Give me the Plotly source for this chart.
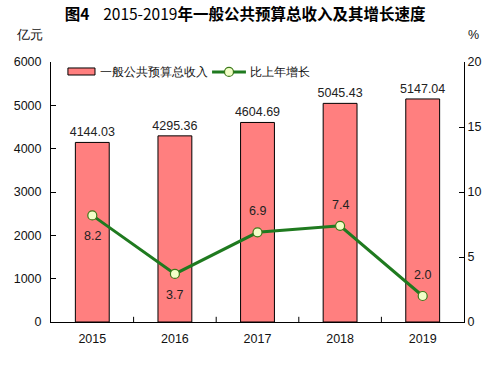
import plotly.graph_objects as go

years = ["2015", "2016", "2017", "2018", "2019"]
revenue = [4144.03, 4295.36, 4604.69, 5045.43, 5147.04]
growth = [8.2, 3.7, 6.9, 7.4, 2.0]
growth_label_side = [-1, -1, 1, 1, 1]  # -1 below point, 1 above

FONT = "Liberation Sans, Arial, sans-serif"
BAR_COLOR = "#ff7f7f"
LINE_COLOR = "#1f7a1f"
MARKER_FILL = "#f2ffc8"
MARKER_EDGE = "#3c7a1a"

fig = go.Figure()
fig.add_trace(go.Bar(
    x=years, y=revenue, name="一般公共预算总收入",
    marker=dict(color=BAR_COLOR, line=dict(color="#000000", width=1)),
    width=0.41,
    text=[f"{v:.2f}" for v in revenue], textposition="outside",
    constraintext="none",
    textfont=dict(size=12.5, color="#222222", family=FONT),
    cliponaxis=False, showlegend=False,
))
fig.add_trace(go.Scatter(
    x=years, y=growth, name="比上年增长", yaxis="y2",
    mode="lines+markers",
    line=dict(color=LINE_COLOR, width=3),
    marker=dict(size=9, color=MARKER_FILL, line=dict(color=MARKER_EDGE, width=1.2)),
    cliponaxis=False, showlegend=False,
))

annotations = [
    dict(text="亿元", xref="paper", yref="paper", x=-0.053, y=1.07,
         xanchor="center", yanchor="bottom", showarrow=False,
         font=dict(size=12.5)),
    dict(text="%", xref="paper", yref="paper", x=1.005, y=1.07,
         xanchor="left", yanchor="bottom", showarrow=False,
         font=dict(size=12.5)),
    # custom legend texts
    dict(text="一般公共预算总收入", xref="paper", yref="paper", x=0.114, y=0.962,
         xanchor="left", yanchor="middle", showarrow=False, font=dict(size=12)),
    dict(text="比上年增长", xref="paper", yref="paper", x=0.477, y=0.962,
         xanchor="left", yanchor="middle", showarrow=False, font=dict(size=12)),
]
for idx, (g, side) in enumerate(zip(growth, growth_label_side)):
    annotations.append(dict(
        text=f"{g:.1f}", x=idx, y=g, xref="x", yref="y2", showarrow=False,
        yshift=21 * side, xanchor="center", yanchor="middle",
        font=dict(size=12.5, color="#222222", family=FONT)))

fig.update_layout(
    width=496, height=365,
    margin=dict(l=51, r=32, t=62, b=43),
    paper_bgcolor="white", plot_bgcolor="white",
    font=dict(family=FONT, size=12, color="#111111"),
    title=dict(
        text="<b>图4</b>    2015-2019<b>年一般公共预算总收入及其增长速度</b>",
        x=0.494, xanchor="center", y=0.975, yanchor="top",
        font=dict(size=15.5, color="#000000", family="Noto Sans CJK SC, " + FONT),
    ),
    bargap=0.59,
    showlegend=False,
    xaxis=dict(
        type="category", showline=True, linecolor="#000000", linewidth=1,
        showgrid=False, ticks="outside", ticklen=5, tickcolor="rgba(0,0,0,0)",
        tickfont=dict(size=12.5), range=[-0.5, 4.5],
    ),
    yaxis=dict(
        range=[0, 6000], dtick=1000, showline=True, linecolor="#000000",
        linewidth=1, showgrid=False, ticks="inside", ticklen=5,
        tickcolor="#000000", zeroline=False, tickfont=dict(size=12.5),
        ticklabelstandoff=6,
    ),
    yaxis2=dict(
        range=[0, 20], dtick=5, overlaying="y", side="right",
        showline=True, linecolor="#000000", linewidth=1, showgrid=False,
        ticks="inside", ticklen=5, tickcolor="#000000", zeroline=False,
        tickfont=dict(size=12.5),
    ),
    annotations=annotations,
)

# category boundary tick marks on bottom axis (inside)
for i in range(1, 5):
    fig.add_shape(type="line", xref="x", yref="paper", x0=i - 0.5, x1=i - 0.5,
                  y0=0, y1=0.02, line=dict(color="#000000", width=1))

# custom legend symbols
fig.add_shape(type="rect", xref="paper", yref="paper", x0=0.041, x1=0.1065,
              y0=0.95, y1=0.977, fillcolor=BAR_COLOR,
              line=dict(color="#000000", width=1))
fig.add_shape(type="line", xref="paper", yref="paper", x0=0.39, x1=0.472,
              y0=0.962, y1=0.962, line=dict(color=LINE_COLOR, width=3))
fig.add_shape(type="circle", xref="paper", yref="paper", xsizemode="pixel",
              ysizemode="pixel", xanchor=0.431, yanchor=0.962,
              x0=-4.5, x1=4.5, y0=-4.5, y1=4.5, fillcolor=MARKER_FILL,
              line=dict(color=MARKER_EDGE, width=1.2))

fig.write_html("out.html", config={"displayModeBar": False},
               post_script="document.body.style.margin='0';")
